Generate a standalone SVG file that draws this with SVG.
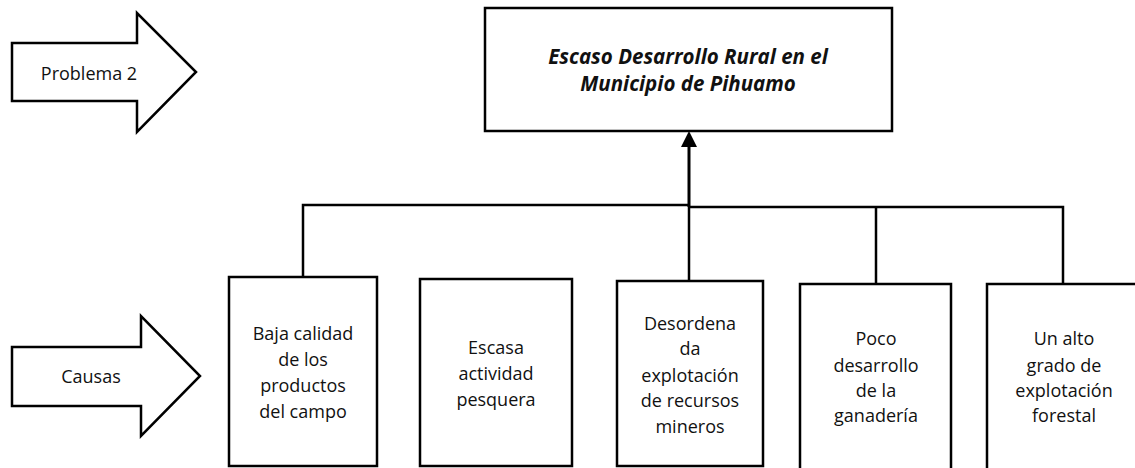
<svg xmlns="http://www.w3.org/2000/svg" width="1135" height="468" viewBox="0 0 1135 468">
<style>
.box{fill:#fff;stroke:#000;stroke-width:2.5}
.ln{fill:none;stroke:#000;stroke-width:2.5}
.t{font-family:"Open Sans","Liberation Sans",sans-serif;font-size:18px;fill:#111;text-anchor:middle}
.tt{font-family:"Open Sans","Liberation Sans",sans-serif;font-size:20.5px;font-weight:bold;font-style:italic;fill:#111;text-anchor:middle}
</style>
<g id="arrow-problema">
<polygon class="box" points="12,43 137,43 137,13 196,72 137,132 137,101 12,101"/>
<text class="t" x="89" y="80">Problema 2</text>
</g>
<g id="arrow-causas">
<polygon class="box" points="12,347 141,347 141,316 200,376 141,436 141,406 12,406"/>
<text class="t" x="91" y="383">Causas</text>
</g>
<g id="problem">
<rect class="box" x="485" y="8" width="407" height="123"/>
<text class="tt" x="688" y="64">Escaso Desarrollo Rural en el</text>
<text class="tt" x="688" y="91">Municipio de Pihuamo</text>
</g>
<g id="connectors">
<polyline class="ln" points="303,277 303,205 689,205"/>
<polyline class="ln" points="689,281 689,207 1063,207 1063,284"/>
<line class="ln" x1="876" y1="207" x2="876" y2="284"/>
<line x1="689" y1="207" x2="689" y2="140" stroke="#000" stroke-width="3"/>
<polygon points="689,131 681,147 697,147" fill="#000"/>
</g>
<g id="cause1">
<rect class="box" x="229" y="277" width="148" height="189"/>
<text class="t" x="303" y="340">Baja calidad</text>
<text class="t" x="303" y="366">de los</text>
<text class="t" x="303" y="392">productos</text>
<text class="t" x="303" y="418">del campo</text>
</g>
<g id="cause2">
<rect class="box" x="420" y="279" width="152" height="187"/>
<text class="t" x="496" y="354">Escasa</text>
<text class="t" x="496" y="380">actividad</text>
<text class="t" x="496" y="406">pesquera</text>
</g>
<g id="cause3">
<rect class="box" x="617" y="281" width="146" height="185"/>
<text class="t" x="690" y="330">Desordena</text>
<text class="t" x="690" y="355">da</text>
<text class="t" x="690" y="382">explotación</text>
<text class="t" x="690" y="407">de recursos</text>
<text class="t" x="690" y="433">mineros</text>
</g>
<g id="cause4">
<rect class="box" x="800" y="284" width="151" height="200"/>
<text class="t" x="876" y="345">Poco</text>
<text class="t" x="876" y="372">desarrollo</text>
<text class="t" x="876" y="397">de la</text>
<text class="t" x="876" y="422">ganadería</text>
</g>
<g id="cause5">
<rect class="box" x="987" y="284" width="160" height="200"/>
<text class="t" x="1064" y="345">Un alto</text>
<text class="t" x="1064" y="372">grado de</text>
<text class="t" x="1064" y="397">explotación</text>
<text class="t" x="1064" y="422">forestal</text>
</g>
</svg>
